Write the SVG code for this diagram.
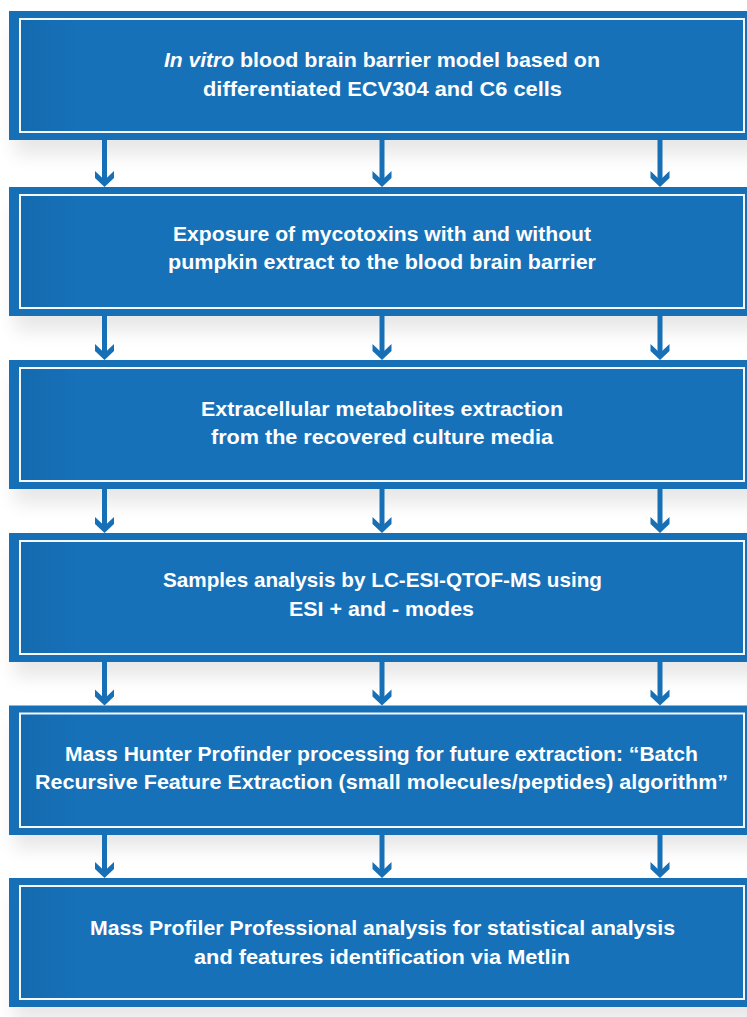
<svg xmlns="http://www.w3.org/2000/svg" width="747" height="1017" viewBox="0 0 747 1017">
  <defs>
    <style>
      .frame { fill: #176fb6; }
      .inner { fill: url(#innerGrad); stroke: #f4f8fc; stroke-width: 2; }
      .shadow { fill: #000; opacity: 0.09; filter: url(#blur); }
      .txt { font-family: "Liberation Sans", Arial, sans-serif; font-weight: bold; font-size: 21px; fill: #ffffff; }
      .it { font-style: italic; }
      .shaft { stroke: #176fb6; stroke-width: 5; fill: none; }
      .head { fill: #176fb6; }
    </style>
    <linearGradient id="innerGrad" x1="0" y1="0" x2="1" y2="0">
      <stop offset="0" stop-color="#146aae"/>
      <stop offset="0.08" stop-color="#1771b8"/>
      <stop offset="1" stop-color="#1771b8"/>
    </linearGradient>
    <filter id="blur" x="-10%" y="-50%" width="120%" height="200%">
      <feGaussianBlur stdDeviation="9"/>
    </filter>
  </defs>
  <rect width="747" height="1017" fill="#ffffff"/>

  <g id="shadows">
    <rect class="shadow" x="14" y="30" width="760" height="125"/>
    <rect class="shadow" x="14" y="206" width="760" height="125"/>
    <rect class="shadow" x="14" y="379" width="760" height="125"/>
    <rect class="shadow" x="14" y="552" width="760" height="125"/>
    <rect class="shadow" x="14" y="724" width="760" height="125"/>
    <rect class="shadow" x="14" y="897" width="760" height="125"/>
  </g>

  <g id="connectors">
    <g id="c1">
      <line class="shaft" x1="104.5" y1="140" x2="104.5" y2="182"/>
      <polygon class="head" points="95,171 104.5,180 114,171 114,178 104.5,187 95,178"/>
      <line class="shaft" x1="382" y1="140" x2="382" y2="182"/>
      <polygon class="head" points="372.5,171 382,180 391.5,171 391.5,178 382,187 372.5,178"/>
      <line class="shaft" x1="660" y1="140" x2="660" y2="182"/>
      <polygon class="head" points="650.5,171 660,180 669.5,171 669.5,178 660,187 650.5,178"/>
    </g>
    <g id="c2">
      <line class="shaft" x1="104.5" y1="316" x2="104.5" y2="355"/>
      <polygon class="head" points="95,344 104.5,353 114,344 114,351 104.5,360 95,351"/>
      <line class="shaft" x1="382" y1="316" x2="382" y2="355"/>
      <polygon class="head" points="372.5,344 382,353 391.5,344 391.5,351 382,360 372.5,351"/>
      <line class="shaft" x1="660" y1="316" x2="660" y2="355"/>
      <polygon class="head" points="650.5,344 660,353 669.5,344 669.5,351 660,360 650.5,351"/>
    </g>
    <g id="c3">
      <line class="shaft" x1="104.5" y1="489" x2="104.5" y2="528"/>
      <polygon class="head" points="95,517 104.5,526 114,517 114,524 104.5,533 95,524"/>
      <line class="shaft" x1="382" y1="489" x2="382" y2="528"/>
      <polygon class="head" points="372.5,517 382,526 391.5,517 391.5,524 382,533 372.5,524"/>
      <line class="shaft" x1="660" y1="489" x2="660" y2="528"/>
      <polygon class="head" points="650.5,517 660,526 669.5,517 669.5,524 660,533 650.5,524"/>
    </g>
    <g id="c4">
      <line class="shaft" x1="104.5" y1="662" x2="104.5" y2="700"/>
      <polygon class="head" points="95,689.5 104.5,698.5 114,689.5 114,696.5 104.5,705.5 95,696.5"/>
      <line class="shaft" x1="382" y1="662" x2="382" y2="700"/>
      <polygon class="head" points="372.5,689.5 382,698.5 391.5,689.5 391.5,696.5 382,705.5 372.5,696.5"/>
      <line class="shaft" x1="660" y1="662" x2="660" y2="700"/>
      <polygon class="head" points="650.5,689.5 660,698.5 669.5,689.5 669.5,696.5 660,705.5 650.5,696.5"/>
    </g>
    <g id="c5">
      <line class="shaft" x1="104.5" y1="835" x2="104.5" y2="873"/>
      <polygon class="head" points="95,862 104.5,871 114,862 114,869 104.5,878 95,869"/>
      <line class="shaft" x1="382" y1="835" x2="382" y2="873"/>
      <polygon class="head" points="372.5,862 382,871 391.5,862 391.5,869 382,878 372.5,869"/>
      <line class="shaft" x1="660" y1="835" x2="660" y2="873"/>
      <polygon class="head" points="650.5,862 660,871 669.5,862 669.5,869 660,878 650.5,869"/>
    </g>
  </g>

  <g id="node1">
    <rect class="frame" x="9" y="11" width="745" height="129"/>
    <rect class="inner" x="20" y="19" width="724" height="113"/>
    <text class="txt it" x="164" y="67" textLength="70" lengthAdjust="spacingAndGlyphs">In vitro</text>
    <text class="txt" x="240" y="67" textLength="360" lengthAdjust="spacingAndGlyphs">blood brain barrier model based on</text>
    <text class="txt" x="203" y="95.5" textLength="359" lengthAdjust="spacingAndGlyphs">differentiated ECV304 and C6 cells</text>
  </g>

  <g id="node2">
    <rect class="frame" x="9" y="187" width="745" height="129"/>
    <rect class="inner" x="20" y="195" width="724" height="113"/>
    <text class="txt" x="173" y="240.5" textLength="418" lengthAdjust="spacingAndGlyphs">Exposure of mycotoxins with and without</text>
    <text class="txt" x="168" y="268.5" textLength="428" lengthAdjust="spacingAndGlyphs">pumpkin extract to the blood brain barrier</text>
  </g>

  <g id="node3">
    <rect class="frame" x="9" y="360" width="745" height="129"/>
    <rect class="inner" x="20" y="368" width="724" height="113"/>
    <text class="txt" x="201" y="415.5" textLength="362" lengthAdjust="spacingAndGlyphs">Extracellular metabolites extraction</text>
    <text class="txt" x="211" y="443.5" textLength="342" lengthAdjust="spacingAndGlyphs">from the recovered culture media</text>
  </g>

  <g id="node4">
    <rect class="frame" x="9" y="533" width="745" height="129"/>
    <rect class="inner" x="20" y="541" width="724" height="113"/>
    <text class="txt" x="163" y="587" textLength="439" lengthAdjust="spacingAndGlyphs">Samples analysis by LC-ESI-QTOF-MS using</text>
    <text class="txt" x="289" y="615.5" textLength="185" lengthAdjust="spacingAndGlyphs">ESI + and - modes</text>
  </g>

  <g id="node5">
    <rect class="frame" x="9" y="705.5" width="745" height="129.5"/>
    <rect class="inner" x="20" y="713.5" width="724" height="113.5"/>
    <text class="txt" x="65" y="760.5" textLength="633" lengthAdjust="spacingAndGlyphs">Mass Hunter Profinder processing for future extraction: “Batch</text>
    <text class="txt" x="35" y="788.5" textLength="693" lengthAdjust="spacingAndGlyphs">Recursive Feature Extraction (small molecules/peptides) algorithm”</text>
  </g>

  <g id="node6">
    <rect class="frame" x="9" y="878" width="745" height="129"/>
    <rect class="inner" x="20" y="886" width="724" height="113"/>
    <text class="txt" x="90" y="934.5" textLength="585" lengthAdjust="spacingAndGlyphs">Mass Profiler Professional analysis for statistical analysis</text>
    <text class="txt" x="194" y="963.5" textLength="376" lengthAdjust="spacingAndGlyphs">and features identification via Metlin</text>
  </g>
</svg>
